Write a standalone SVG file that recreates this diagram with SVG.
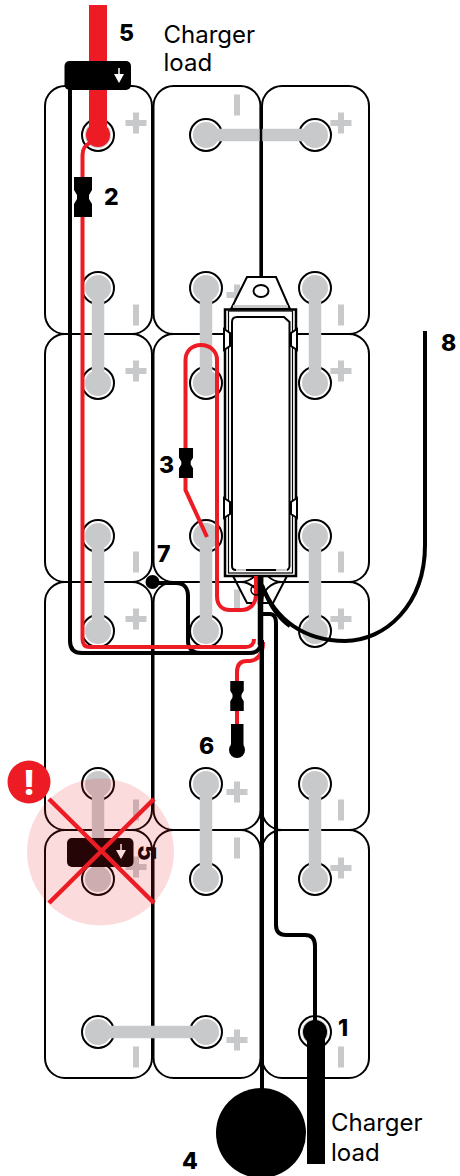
<svg xmlns="http://www.w3.org/2000/svg" width="460" height="1176" viewBox="0 0 460 1176">
<style>
text{font-family:Inter,"Liberation Sans",sans-serif;fill:#000}
.n{font-size:23px;font-weight:800}
.t{font-size:24px;font-weight:400}
.b{fill:none;stroke:#000;stroke-width:2}
.l{fill:none;stroke:#c8c9cb;stroke-width:12.500;stroke-linecap:butt}
.g{fill:#c8c9cb}
.w{fill:none;stroke:#000;stroke-width:4}
.r{fill:none;stroke:#ed1c24;stroke-width:4}
</style>
<defs>
<g id="term"><circle r="16" fill="#fff" stroke="#000" stroke-width="2"/><circle r="13" fill="#c8c9cb"/></g>
<path id="plus" class="g" d="M-3-10.500H3V-3H10.500V3H3V10.500H-3V3H-10.500V-3H-3Z"/>
<rect id="minus" class="g" x="-3" y="-10.500" width="6" height="21"/>
<path id="fuse" d="M-9-20H9V-7L6-2V2L9 7V20H-9V7L-6 2V-2L-9-7Z"/>
<g id="arrow"><path d="M0-8V0" stroke="#fff" stroke-width="1.500"/><path d="M-5-2H5L0 7Z" fill="#fff"/></g>
</defs>

<g id="batteries">
<rect id="b11" class="b" x="45" y="86" width="107" height="248" rx="20"/>
<rect id="b12" class="b" x="153.500" y="86" width="107" height="248" rx="20"/>
<rect id="b13" class="b" x="262" y="86" width="107" height="248" rx="20"/>
<rect id="b21" class="b" x="45" y="334" width="107" height="248" rx="20"/>
<rect id="b22" class="b" x="153.500" y="334" width="107" height="248" rx="20"/>
<rect id="b23" class="b" x="262" y="334" width="107" height="248" rx="20"/>
<rect id="b31" class="b" x="45" y="582" width="107" height="248" rx="20"/>
<rect id="b32" class="b" x="153.500" y="582" width="107" height="248" rx="20"/>
<rect id="b33" class="b" x="262" y="582" width="107" height="248" rx="20"/>
<rect id="b41" class="b" x="45" y="830" width="107" height="248" rx="20"/>
<rect id="b42" class="b" x="153.500" y="830" width="107" height="248" rx="20"/>
<rect id="b43" class="b" x="262" y="830" width="107" height="248" rx="20"/>
</g>

<g id="polarity">
<use href="#plus" x="136" y="123"/><use href="#minus" x="136" y="315"/>
<use href="#plus" x="136" y="371"/><use href="#minus" x="136" y="562"/>
<use href="#plus" x="136" y="619"/><use href="#minus" x="136" y="810"/>
<use href="#plus" x="136" y="867"/><use href="#minus" x="136" y="1057"/>
<use href="#minus" x="237" y="105"/><use href="#plus" x="237" y="295"/>
<use href="#minus" x="237" y="600"/><use href="#plus" x="237" y="792"/>
<use href="#minus" x="237" y="848"/><use href="#plus" x="237" y="1040"/>
<use href="#plus" x="341" y="123"/><use href="#minus" x="341" y="315"/>
<use href="#plus" x="341" y="371"/><use href="#minus" x="341" y="562"/>
<use href="#plus" x="341" y="619"/><use href="#minus" x="341" y="810"/>
<use href="#plus" x="341" y="868"/><use href="#minus" x="341" y="1057"/>
</g>

<g id="terminals">
<use href="#term" x="98" y="135"/><use href="#term" x="206" y="135"/><use href="#term" x="315" y="135"/>
<use href="#term" x="98" y="288"/><use href="#term" x="206" y="288"/><use href="#term" x="315" y="288"/>
<use href="#term" x="98" y="383"/><use href="#term" x="206" y="383"/><use href="#term" x="315" y="383"/>
<use href="#term" x="98" y="536"/><use href="#term" x="206" y="536"/><use href="#term" x="315" y="536"/>
<use href="#term" x="98" y="631"/><use href="#term" x="206" y="631"/><use href="#term" x="315" y="631"/>
<use href="#term" x="98" y="784"/><use href="#term" x="206" y="784"/><use href="#term" x="315" y="784"/>
<use href="#term" x="98" y="879"/><use href="#term" x="206" y="879"/><use href="#term" x="315" y="879"/>
<use href="#term" x="98" y="1032"/><use href="#term" x="206" y="1032"/><use href="#term" x="315" y="1032"/>
</g>

<g id="links">
<path class="l" d="M206 135H315M98 288V383M206 288V383M315 288V383M98 536V631M206 536V631M315 536V631M98 784V879M206 784V879M315 784V879M98 1032H206"/>
</g>

<g id="connectors">
<path class="w" style="stroke-width:2.500" d="M261 277V106"/>
<path class="r" d="M237 681V672C237 664 241 661 247 661H250C257 660 263 655 263 642"/>
<path class="w" d="M70 88V641C70 649 74 653 82 653H250C257 653 261 649 261 641V576"/>
<path class="w" d="M152 583H176C184 583 188 588 188 596V641C188 649 193 653 201 653"/>
<path class="w" style="stroke-width:5.500" d="M260.500 576V645"/>
<path class="w" d="M262 640V1090"/>
<path class="w" d="M263 614H270C274 614 276 618 276 623V925C276 932 280 935 286 935H305C312 935 315 939 315 946V1032"/>
<path class="w" d="M425 331V545C425 605 385 641 345 641C305 641 275 620 262 585"/>
<path fill="none" stroke="#ed1c24" stroke-width="18" d="M98 5V135"/>
<path class="r" d="M90 143C85 145 82.500 149 82.500 155V639C82.500 645 85 647 90 647H246C251 647 254 644 254 639"/>
<path class="r" d="M256 576V594C256 604 250 610 241 610H230C222 610 217 605 217 596V360C217 351 210 345 201 345C192 345 185.500 351 185.500 360V490L207 537"/>
<circle cx="98" cy="135" r="12" fill="#ed1c24"/>
</g>

<g id="monitor">
<path d="M231 309L247 277H276L290 309Z" fill="#fff" stroke="#000" stroke-width="2"/>
<path d="M233 306.500H288" stroke="#c8c9cb" stroke-width="3"/>
<ellipse cx="261" cy="291" rx="7.500" ry="6" fill="#fff" stroke="#000" stroke-width="2"/>
<circle cx="256" cy="590" r="5" fill="none" stroke="#000" stroke-width="1.500"/>
<path d="M233 576L247 603H252M263 603H273L287 576" fill="none" stroke="#000" stroke-width="2"/>
<rect x="225" y="309.500" width="71" height="266.500" fill="#fff" stroke="#000" stroke-width="2.500"/>
<rect x="228.500" y="311" width="64" height="262" fill="none" stroke="#000" stroke-width="1.200"/>
<path d="M232 322C232 319 234 317 237 317H284L289.500 322V566C289.500 568 288 570 286 570H236C233 570 232 568 232 566Z" fill="#fff" stroke="#000" stroke-width="2"/>
<path d="M236 570H246M276 570H287" stroke="#c8c9cb" stroke-width="2" fill="none"/>
<path d="M224 329L230 333V346L224 350ZM297 329L291 333V346L297 350ZM224 498L230 502V514L224 518ZM297 498L291 502V514L297 518Z" fill="#fff" stroke="#000" stroke-width="2"/>
<path class="r" d="M256 576V594"/>
<path class="w" style="stroke-width:5.500" d="M260.500 576V604"/>
<path class="w" d="M264 590C270 605 278 618 290 626"/>
</g>

<g id="clamp-top">
<rect x="64.500" y="61" width="66.500" height="29" rx="5"/>
<use href="#arrow" x="119" y="76"/>
</g>
<g id="fuse-2"><use href="#fuse" x="83" y="197"/></g>
<g id="fuse-3"><use href="#fuse" transform="translate(186 463) scale(.78 .75)"/></g>
<g id="fuse-6"><use href="#fuse" transform="translate(237 696) scale(.75)"/></g>
<g id="sensor-6">
<path class="r" d="M237 711V725"/>
<rect x="231" y="724" width="12.500" height="24"/>
<circle cx="237" cy="750" r="8"/>
</g>
<g id="junction-7"><circle cx="152.500" cy="582" r="7"/></g>
<g id="shunt-4"><circle cx="261" cy="1133" r="45"/></g>
<g id="terminal-1">
<circle cx="315" cy="1032" r="12"/>
<rect x="307" y="1032" width="18" height="132"/>
</g>

<g id="labels">
<text class="n" x="119" y="41">5</text>
<text class="t" x="163.500" y="43">Charger</text>
<text class="t" x="163.500" y="71">load</text>
<text class="n" x="104" y="205">2</text>
<text class="n" x="441" y="351">8</text>
<text class="n" x="159" y="473">3</text>
<text class="n" x="157" y="562">7</text>
<text class="n" x="199" y="754">6</text>
<text class="n" x="338" y="1036">1</text>
<text class="n" x="182" y="1169">4</text>
<text class="t" x="331" y="1131">Charger</text>
<text class="t" x="331" y="1161">load</text>
</g>

<g id="wrong-clamp">
<rect x="67" y="838" width="66.500" height="29" rx="5"/>
<use href="#arrow" x="121" y="852"/>
<text x="138" y="845" font-size="24" font-weight="800" transform="rotate(90 138 845)">5</text>
</g>
<g id="warning">
<circle cx="100.500" cy="852" r="73.500" fill="#ed1c24" fill-opacity=".16"/>
<path d="M49 799L154 903M154 799L49 903" stroke="#ed1c24" stroke-width="4.500" fill="none"/>
<circle cx="29" cy="782" r="21.500" fill="#ed1c24"/>
<text x="29" y="795" font-size="34" font-weight="800" text-anchor="middle" style="fill:#fff">!</text>
</g>
</svg>
